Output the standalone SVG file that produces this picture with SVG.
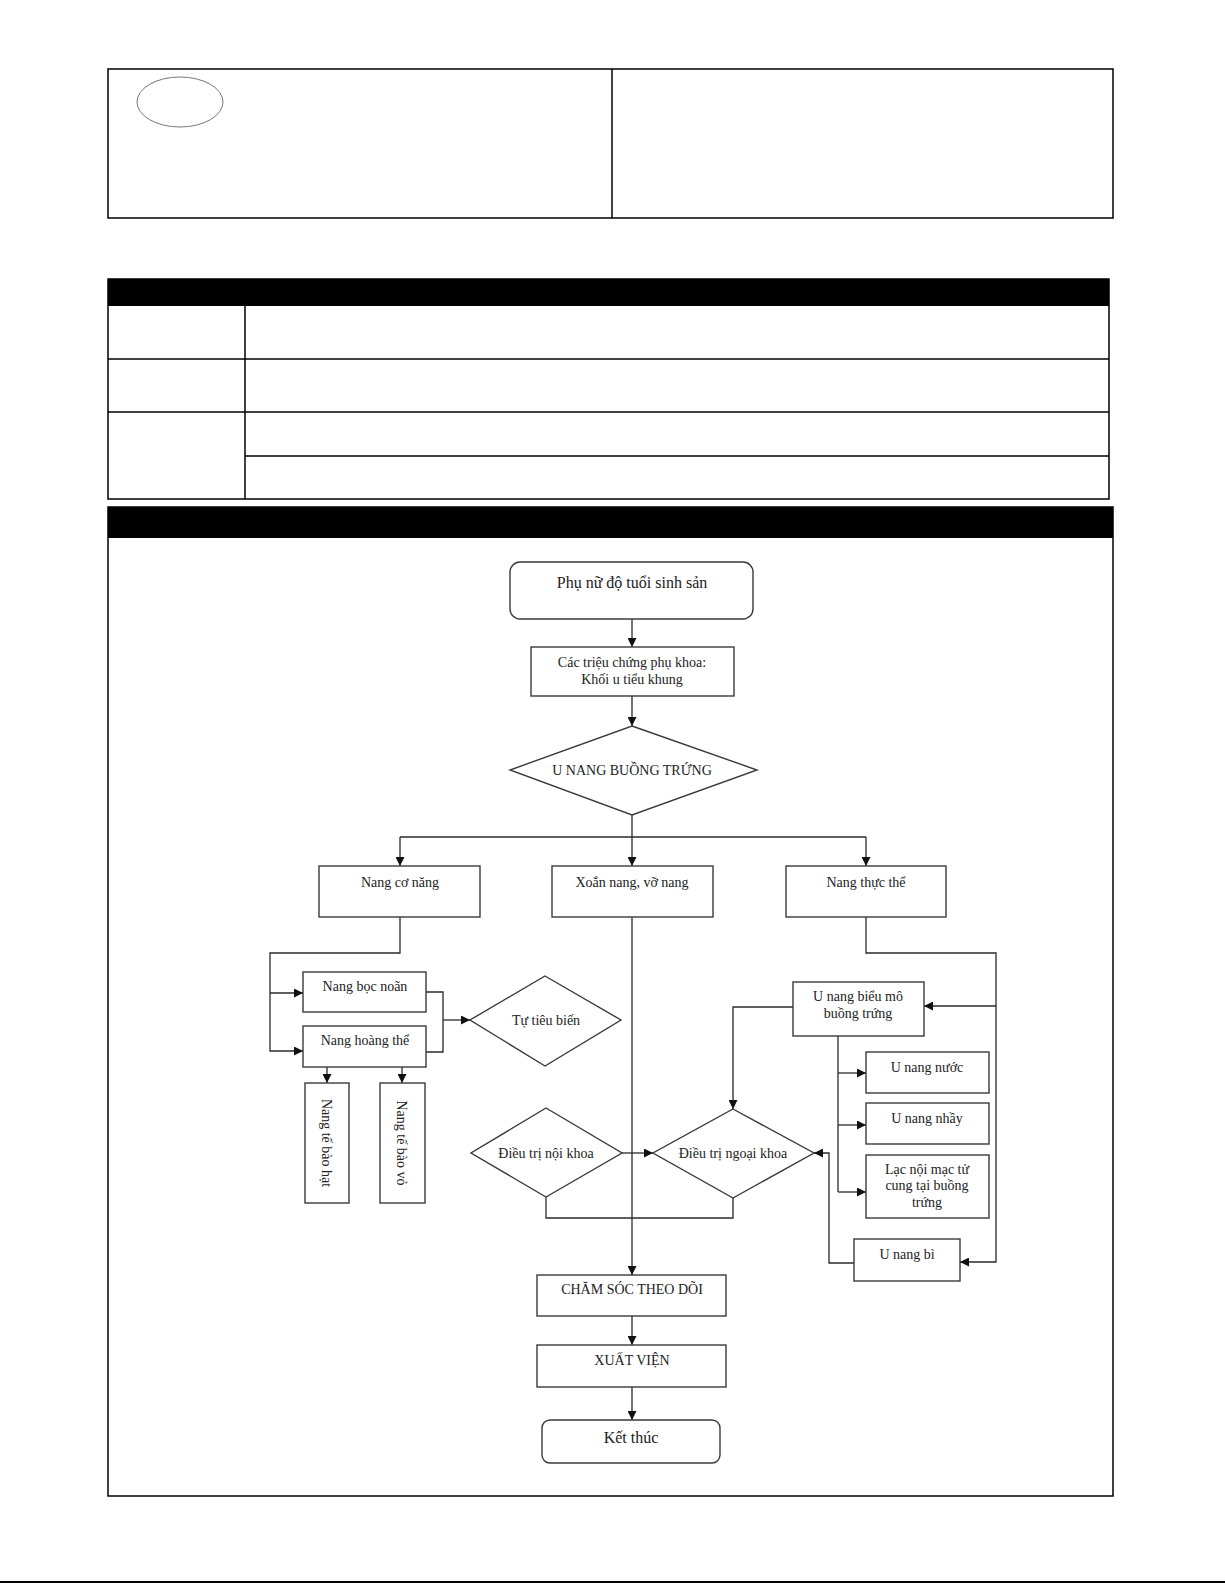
<svg xmlns="http://www.w3.org/2000/svg" width="1225" height="1585" viewBox="0 0 1225 1585">
<style>
.frame{fill:none;stroke:#000;stroke-width:1.5}
.node{fill:#fff;stroke:#3a3a3a;stroke-width:1.4}
.ln{fill:none;stroke:#2a2a2a;stroke-width:1.3}
.t{font-family:"Liberation Serif","DejaVu Serif",serif;font-size:14px;fill:#222;text-anchor:middle}
.big{font-size:16px}
</style>
<defs>
<marker id="ar" viewBox="0 0 10 10" refX="10" refY="5" markerWidth="9" markerHeight="9" markerUnits="userSpaceOnUse" orient="auto">
<path d="M0,0 L10,5 L0,10 z" fill="#111"/>
</marker>
</defs>
<rect width="1225" height="1585" fill="#fff"/>

<!-- header box -->
<g id="header">
<rect class="frame" x="108" y="69" width="1005" height="149"/>
<line class="frame" x1="612" y1="69" x2="612" y2="218"/>
<ellipse cx="180" cy="102" rx="43" ry="25" fill="none" stroke="#777" stroke-width="1"/>
</g>

<!-- table -->
<g id="table">
<rect x="108" y="279" width="1001" height="27" fill="#000"/>
<rect class="frame" x="108" y="279" width="1001" height="220"/>
<line class="frame" x1="108" y1="359" x2="1109" y2="359"/>
<line class="frame" x1="108" y1="412" x2="1109" y2="412"/>
<line class="frame" x1="245" y1="456" x2="1109" y2="456"/>
<line class="frame" x1="245" y1="306" x2="245" y2="499"/>
</g>

<!-- flow section frame -->
<g id="section">
<rect x="108" y="507" width="1005" height="31" fill="#000"/>
<rect class="frame" x="108" y="507" width="1005" height="989"/>
</g>

<line x1="0" y1="1582" x2="1225" y2="1582" stroke="#000" stroke-width="2"/>

<!-- connectors -->
<g id="connectors">
<path class="ln" d="M632,619 V647" marker-end="url(#ar)"/>
<path class="ln" d="M632,696 V726" marker-end="url(#ar)"/>
<path class="ln" d="M632,815 V837 M400,837 H866"/>
<path class="ln" d="M400,837 V866" marker-end="url(#ar)"/>
<path class="ln" d="M632,837 V866" marker-end="url(#ar)"/>
<path class="ln" d="M866,837 V866" marker-end="url(#ar)"/>
<path class="ln" d="M400,917 V953 H270 V1051 H303" marker-end="url(#ar)"/>
<path class="ln" d="M270,993 H303" marker-end="url(#ar)"/>
<path class="ln" d="M426,992 H443 V1052 H426"/>
<path class="ln" d="M443,1020 H470" marker-end="url(#ar)"/>
<path class="ln" d="M327,1067 V1083" marker-end="url(#ar)"/>
<path class="ln" d="M402,1067 V1083" marker-end="url(#ar)"/>
<path class="ln" d="M632,917 V1275" marker-end="url(#ar)"/>
<path class="ln" d="M866,917 V953 H996 V1262 H960" marker-end="url(#ar)"/>
<path class="ln" d="M996,1006 H924" marker-end="url(#ar)"/>
<path class="ln" d="M793,1007 H733 V1109" marker-end="url(#ar)"/>
<path class="ln" d="M838,1036 V1192"/>
<path class="ln" d="M838,1073 H866" marker-end="url(#ar)"/>
<path class="ln" d="M838,1125 H866" marker-end="url(#ar)"/>
<path class="ln" d="M838,1192 H866" marker-end="url(#ar)"/>
<path class="ln" d="M854,1263 H829 V1153 H814" marker-end="url(#ar)"/>
<path class="ln" d="M622,1153 H653" marker-end="url(#ar)"/>
<path class="ln" d="M546,1197 V1218 H733 V1198"/>
<path class="ln" d="M632,1316 V1345" marker-end="url(#ar)"/>
<path class="ln" d="M632,1387 V1420" marker-end="url(#ar)"/>
</g>

<!-- nodes -->
<g id="n-start"><rect class="node" x="510" y="562" width="243" height="57" rx="10"/><text class="t big" x="632" y="588">Phụ nữ độ tuổi sinh sản</text></g>
<g id="n-trieuchung"><rect class="node" x="531" y="647" width="203" height="49"/><text class="t" x="632" y="667">Các triệu chứng phụ khoa:</text><text class="t" x="632" y="684">Khối u tiểu khung</text></g>
<g id="n-unang"><polygon class="node" points="632,726 757,770 632,815 510,770"/><text class="t" x="632" y="775">U NANG BUỒNG TRỨNG</text></g>
<g id="n-cona"><rect class="node" x="319" y="866" width="161" height="51"/><text class="t" x="400" y="887">Nang cơ năng</text></g>
<g id="n-xoan"><rect class="node" x="552" y="866" width="161" height="51"/><text class="t" x="632" y="887">Xoắn nang, vỡ nang</text></g>
<g id="n-thucthe"><rect class="node" x="786" y="866" width="160" height="51"/><text class="t" x="866" y="887">Nang thực thể</text></g>
<g id="n-bocnoan"><rect class="node" x="303" y="972" width="123" height="40"/><text class="t" x="365" y="991">Nang bọc noãn</text></g>
<g id="n-hoangthe"><rect class="node" x="303" y="1026" width="123" height="41"/><text class="t" x="365" y="1045">Nang hoàng thể</text></g>
<g id="n-tutieu"><polygon class="node" points="545,976 621,1020 545,1066 470,1020"/><text class="t" x="546" y="1025">Tự tiêu biến</text></g>
<g id="n-tbhat"><rect class="node" x="305" y="1083" width="44" height="120"/><text class="t" transform="translate(327,1143) rotate(90)" y="5">Nang tế bào hạt</text></g>
<g id="n-tbvo"><rect class="node" x="380" y="1083" width="45" height="120"/><text class="t" transform="translate(402,1143) rotate(90)" y="5">Nang tế bào vỏ</text></g>
<g id="n-noikhoa"><polygon class="node" points="546,1108 622,1153 546,1197 471,1153"/><text class="t" x="546" y="1158">Điều trị nội khoa</text></g>
<g id="n-ngoaikhoa"><polygon class="node" points="733,1109 814,1153 733,1198 653,1153"/><text class="t" x="733" y="1158">Điều trị ngoại khoa</text></g>
<g id="n-bieumo"><rect class="node" x="793" y="982" width="131" height="54"/><text class="t" x="858" y="1001">U nang biểu mô</text><text class="t" x="858" y="1018">buồng trứng</text></g>
<g id="n-nuoc"><rect class="node" x="866" y="1052" width="123" height="41"/><text class="t" x="927" y="1072">U nang nước</text></g>
<g id="n-nhay"><rect class="node" x="866" y="1103" width="123" height="41"/><text class="t" x="927" y="1123">U nang nhầy</text></g>
<g id="n-lacnoimac"><rect class="node" x="866" y="1155" width="123" height="63"/><text class="t" x="927" y="1174">Lạc nội mạc tử</text><text class="t" x="927" y="1190">cung tại buồng</text><text class="t" x="927" y="1207">trứng</text></g>
<g id="n-bi"><rect class="node" x="854" y="1239" width="106" height="42"/><text class="t" x="907" y="1259">U nang bì</text></g>
<g id="n-chamsoc"><rect class="node" x="537" y="1275" width="189" height="41"/><text class="t" x="632" y="1294">CHĂM SÓC THEO DÕI</text></g>
<g id="n-xuatvien"><rect class="node" x="537" y="1345" width="189" height="42"/><text class="t" x="632" y="1365">XUẤT VIỆN</text></g>
<g id="n-ketthuc"><rect class="node" x="542" y="1420" width="178" height="43" rx="8"/><text class="t big" x="631" y="1443">Kết thúc</text></g>
</svg>
